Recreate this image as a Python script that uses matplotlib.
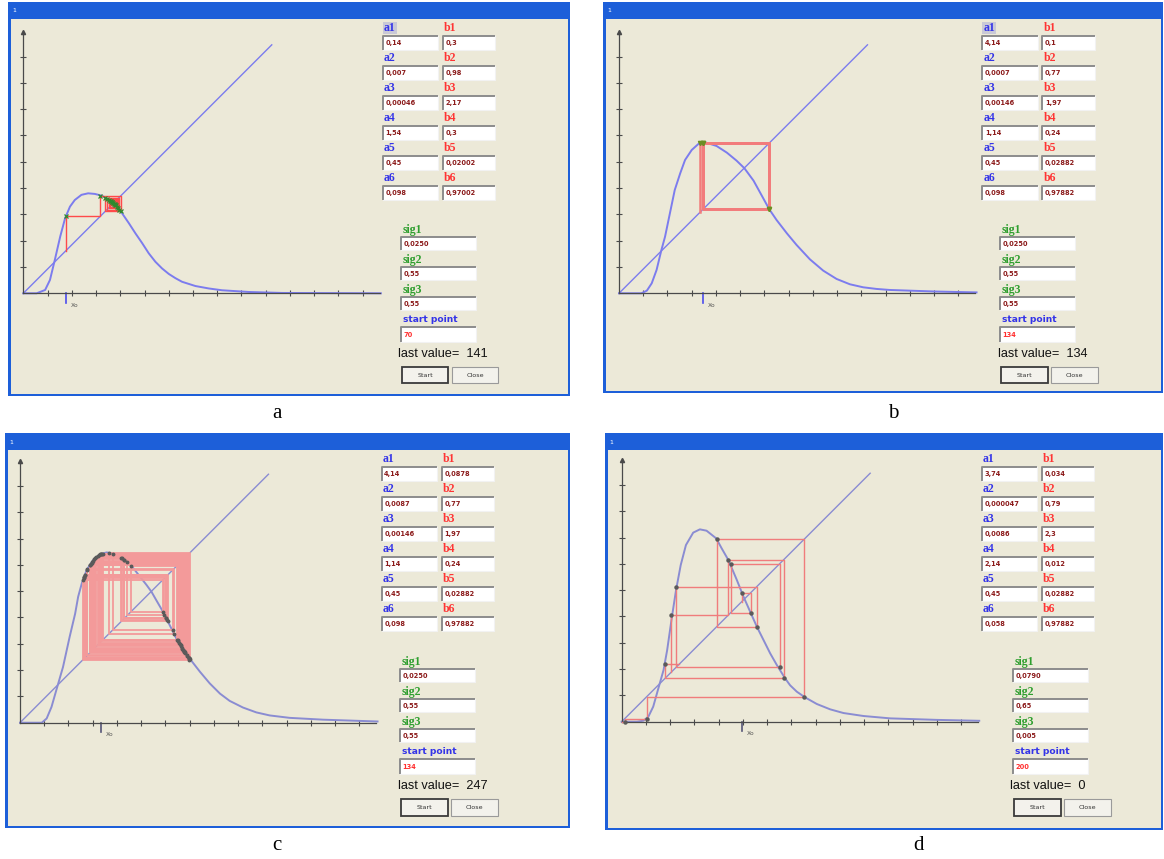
import numpy as np
import matplotlib.pyplot as plt
from matplotlib.patches import Rectangle

W, H = 1164, 859

# map curves, in start-point units
a_x = [0, 22, 36, 44, 52, 61, 69, 77, 85, 96, 107, 118, 130, 140, 152, 163, 174, 185, 196, 207,
       218, 229, 240, 251, 262, 284, 306, 328, 372, 427, 590]
a_y = [0, 0, 5.5, 22, 55, 94, 124, 143, 154, 162.5, 165, 164, 161, 155, 146, 132, 116, 99, 83, 66,
       52, 41, 32, 25, 19, 12, 8, 5, 2.2, 0.6, 0]
a_orbit = [70, 127, 161, 135, 158, 138, 156, 141, 154, 143, 153, 145, 152, 146, 151, 147, 150, 148, 149]

b_x = [0, 37, 46, 54, 62, 70, 76, 84, 92, 101, 109, 120, 131, 142, 161, 178, 194, 207, 222, 235,
       248, 260, 277, 293, 315, 337, 359, 381, 403, 425, 447, 520, 590]
b_y = [0, 0, 4.4, 16.5, 38.5, 71.5, 93.5, 132, 170.5, 198, 220, 236.5, 246.4, 249.2, 243.1, 232.1,
       218.9, 206.3, 185.9, 162.3, 138.6, 121, 99, 79.8, 56.1, 37.4, 23.7, 14.9, 9.9, 7.2, 5.5, 3, 1.5]
b_orbit = [134, 248, 139, 248, 139, 248]

c_x = [0, 36, 44, 52, 60, 71, 82, 91, 96, 102, 110, 121, 132, 143, 154, 165, 176, 187, 198, 209,
       217, 225, 236, 247, 258, 270, 283, 297, 313, 330, 346, 368, 390, 412, 445, 500, 560, 590]
c_y = [0, 0, 7, 26, 54, 92, 142, 180, 208, 230, 252, 269, 278, 281, 279, 274, 266, 255, 241, 227,
       216, 202, 183, 161, 139, 119, 102, 84, 65, 48, 36, 25, 17, 12, 8, 5, 3, 2]
c_orbit = [134, 279, 107, 244, 167, 272, 116, 261, 134, 279, 106, 241, 172, 268, 122, 270, 119, 265,
           129, 275, 111, 254, 147, 280, 105, 238, 177, 266, 126, 273, 115, 260, 136, 279, 104, 236,
           183, 259, 137, 279, 106, 241, 172, 269, 120, 267, 124, 271, 118, 264, 130, 276, 110, 252,
           153, 279, 107, 243, 169, 271, 117, 262, 132, 278]

d_x = [0, 25, 36, 44, 52, 60.5, 69, 75, 82.5, 89.7, 97.4, 106, 118, 129, 140, 156, 165, 176, 190,
       201, 212, 223, 234, 245, 256, 270, 278, 289, 302.5, 322, 344, 366, 399, 443, 520, 590]
d_y = [0, 0, 1.7, 8.3, 24.8, 55, 85, 118, 170.5, 217.3, 258.5, 291.5, 312, 317.4, 315.2, 302.5, 286,
       266.8, 233.8, 206.3, 181.5, 156.8, 134.8, 112.8, 93.5, 71, 60, 49.5, 40.2, 29.2, 20.4, 14.3,
       9.4, 5.5, 3, 1.5]
d_orbit = [198, 213, 180, 261, 90, 223, 157, 301, 41, 5, 0]
d_orbit2 = [82, 176, 267, 72, 95]

# parameter fields shown in each window
a_params = [["0,14", "0,007", "0,00046", "1,54", "0,45", "0,098"],
            ["4,14", "0,0007", "0,00146", "1,14", "0,45", "0,098"],
            ["4,14", "0,0087", "0,00146", "1,14", "0,45", "0,098"],
            ["3,74", "0,000047", "0,0086", "2,14", "0,45", "0,058"]]
b_params = [["0,3", "0,98", "2,17", "0,3", "0,02002", "0,97002"],
            ["0,1", "0,77", "1,97", "0,24", "0,02882", "0,97882"],
            ["0,0878", "0,77", "1,97", "0,24", "0,02882", "0,97882"],
            ["0,034", "0,79", "2,3", "0,012", "0,02882", "0,97882"]]
sig_params = [["0,0250", "0,55", "0,55"],
              ["0,0250", "0,55", "0,55"],
              ["0,0250", "0,55", "0,55"],
              ["0,0790", "0,65", "0,005"]]
start_points = ["70", "134", "134", "200"]
last_values = ["141", "134", "247", "0"]
panel_letters = ["a", "b", "c", "d"]

fig = plt.figure(figsize=(W / 100, H / 100), dpi=100)
fig.patch.set_facecolor("white")
bg = fig.add_axes([0, 0, 1, 1])
bg.axis("off")

BEIGE = "#ECE9D8"
xp_cmap = plt.matplotlib.colors.LinearSegmentedColormap.from_list("xp", ["#0A4CC8", "#2E7DF0", "#8DB8F8"])


def window(x0, y0, x1, y1):
    bg.add_patch(Rectangle((x0, y0), x1 - x0, y1 - y0, fc="#1D5FD9", ec="none"))
    bg.add_patch(Rectangle((x0 + 2.5, y0 + 17), x1 - x0 - 5, y1 - y0 - 19.5, fc=BEIGE, ec="none"))
    grad = np.array([[0.75], [0.55], [0.3], [0.15], [0.1], [0.12], [0.2], [0.28]])
    bg.imshow(grad, extent=(x0, x1, y0 + 17, y0), aspect="auto", cmap=xp_cmap, vmin=0, vmax=1,
              interpolation="bilinear")
    bg.text(x0 + 4, y0 + 9, "1", color="white", fontsize=4.5, va="center")


def textbox(x, y, w, h, val, color="#8B1A1A"):
    bg.add_patch(Rectangle((x, y), w, h, fc="white", ec="none"))
    bg.plot([x, x, x + w], [y + h, y, y], color="#8C8C8C", lw=1.4, solid_capstyle="butt")
    bg.plot([x, x + w, x + w], [y + h, y + h, y], color="#F2F2F2", lw=0.8)
    bg.text(x + 2.5, y + h / 2 + 0.5, val, color=color, fontsize=4.8, va="center", ha="left",
            fontweight="bold")


def button(x, y, w, h, label, default=False):
    bg.add_patch(Rectangle((x, y), w, h, fc="#F3F2EC", ec="#3A3A3A" if default else "#9A9A9A",
                           lw=1.3 if default else 0.8))
    bg.text(x + w / 2, y + h / 2, label, fontsize=4.6, ha="center", va="center", color="#333333")


def controls(k, bx, by, sx, sy, focus):
    for i in range(6):
        y = by + 30 * i
        if focus and i == 0:
            bg.add_patch(Rectangle((bx, y - 13.5), 14, 12, fc="#C9C9D6", ec="none"))
        bg.text(bx + 1, y - 7.3, "a%d" % (i + 1), color="#3434E8", fontsize=8.5, fontweight="bold",
                family="Liberation Serif", va="center")
        textbox(bx, y, 55.6, 14.3, a_params[k][i])
        bg.text(bx + 61, y - 7.3, "b%d" % (i + 1), color="#FF3434", fontsize=8.5, fontweight="bold",
                family="Liberation Serif", va="center")
        textbox(bx + 60, y, 52.3, 14.3, b_params[k][i])
    for i in range(3):
        y = sy + 30 * i
        bg.text(sx + 2, y - 7, "sig%d" % (i + 1), color="#2E9E2E", fontsize=8.5, fontweight="bold",
                family="Liberation Serif", va="center")
        textbox(sx, y, 75.3, 13.3, sig_params[k][i])
    bg.text(sx + 2, sy + 82.5, "start point", color="#3434E8", fontsize=6.6, fontweight="bold",
            va="center")
    textbox(sx, sy + 90, 75.3, 15, start_points[k], color="#FF3030")
    bg.text(sx - 2.5, sy + 117, "last value=  " + last_values[k], fontsize=9.2, va="center",
            color="#111111", family=["Liberation Sans Narrow", "Liberation Sans"])
    button(sx + 1, sy + 130, 46.6, 16.7, "Start", default=True)
    button(sx + 51, sy + 130, 46.6, 16.7, "Close")


def cobweb(orbit):
    # diagonal -> curve -> diagonal staircase
    px, py = [orbit[0]], [orbit[0]]
    for u, v in zip(orbit[:-1], orbit[1:]):
        px += [u, v]
        py += [v, v]
    return px, py


def plot_panel(ox, oy, cx, cy, orbits, curve_col, web_col, web_lw, dot_kw, x0, xo_col):
    s = 0.606
    xl, yl = (-14, 600), (-42, 452)
    left = ox + xl[0] * s
    right = ox + xl[1] * s
    top = oy - yl[1] * s
    bottom = oy - yl[0] * s
    ax = fig.add_axes([left / W, 1 - bottom / H, (right - left) / W, (bottom - top) / H])
    ax.set_xlim(*xl)
    ax.set_ylim(*yl)
    ax.patch.set_alpha(0)
    for sp in ["top", "right"]:
        ax.spines[sp].set_visible(False)
    ax.spines["left"].set_position(("data", 0))
    ax.spines["bottom"].set_position(("data", 0))
    ax.spines["bottom"].set_bounds(0, 588)
    ax.spines["left"].set_bounds(0, 432)
    for sp in ["left", "bottom"]:
        ax.spines[sp].set_color("#4A4A4A")
        ax.spines[sp].set_linewidth(0.9)
    ax.set_xticks(40 * np.arange(1, 15))
    ax.set_yticks(43.4 * np.arange(1, 10))
    ax.tick_params(direction="inout", length=5, width=0.8, color="#4A4A4A",
                   labelbottom=False, labelleft=False)
    ax.plot(0, 432, marker="^", ms=3, color="#4A4A4A", clip_on=False)
    ax.plot([0, 410], [0, 410], color=curve_col, lw=1.0)
    ax.plot(cx, cy, color=curve_col, lw=1.4)
    for orb in orbits:
        px, py = cobweb(orb)
        ax.plot(px, py, color=web_col, lw=web_lw, zorder=3)
        ax.plot(orb[:-1], orb[1:], ls="none", zorder=4, **dot_kw)
    ax.plot([x0, x0], [0, -16], color=xo_col, lw=1.2)
    ax.text(x0 + 8, -20, "Xo", fontsize=4.2, color="#555555", va="center")
    return ax


# windows
window(8, 2, 570, 396)
window(603, 2, 1163, 393)
window(5, 433, 570, 828)
window(605, 433, 1163, 830)

plot_panel(23.3, 293.3, a_x, a_y, [a_orbit], "#7C7CEE", "#FF4A4A", 1.0,
           dict(marker="x", ms=3, mew=0.9, color="#2E8B2E"), a_orbit[0], "#4B4BEE")
plot_panel(619, 293.3, b_x, b_y, [b_orbit], "#7C7CEE", "#F27C7C", 1.8,
           dict(marker="v", ms=3, color="#6B8E23"), 138, "#4B4BEE")
plot_panel(20, 722.7, c_x, c_y, [c_orbit], "#8A8CD2", "#F39A9A", 1.3,
           dict(marker="o", ms=1.8, color="#5A5A5A"), c_orbit[0], "#555577")
plot_panel(621.7, 721.7, d_x, d_y, [d_orbit, d_orbit2], "#8A8CD2", "#F07C7C", 1.0,
           dict(marker="o", ms=2.2, color="#5A5A5A"), d_orbit[0], "#555577")

controls(0, 382.7, 35.7, 400.7, 236.7, True)
controls(1, 982.3, 35.7, 1000, 236.7, True)
controls(2, 381.7, 466.7, 400, 669, False)
controls(3, 981.7, 466.7, 1013, 669, False)

for lbl, (x, y) in zip(panel_letters, [(277, 414), (893, 414), (277, 846), (918, 846)]):
    bg.text(x, y, lbl, fontsize=15, family="Liberation Serif", ha="center", va="center")

bg.set_xlim(0, W)
bg.set_ylim(H, 0)

fig.savefig("out.png", dpi=100)
